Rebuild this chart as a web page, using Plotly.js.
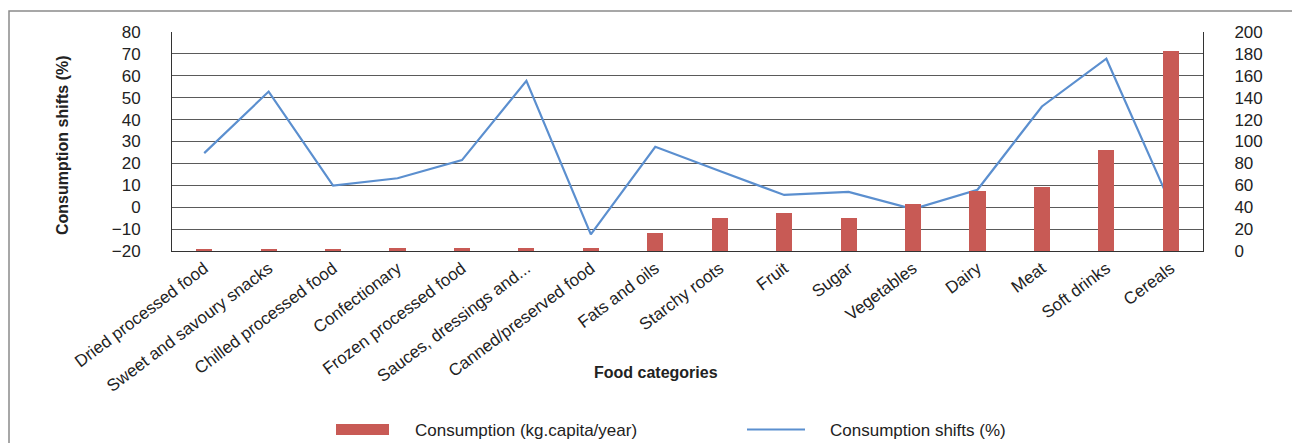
<!DOCTYPE html>
<html>
<head>
<meta charset="utf-8">
<script src="https://cdn.plot.ly/plotly-3.0.1.min.js"></script>
<style>
  html, body { margin: 0; padding: 0; background: #fff; }
  #chart { width: 1292px; height: 443px; }
</style>
</head>
<body>
<div id="chart"></div>
<script>
const categories = [
  "Dried processed food", "Sweet and savoury snacks", "Chilled processed food",
  "Confectionary", "Frozen processed food", "Sauces, dressings and...",
  "Canned/preserved food", "Fats and oils", "Starchy roots", "Fruit", "Sugar",
  "Vegetables", "Dairy", "Meat", "Soft drinks", "Cereals"
];
const consumption = [2, 2, 2, 3, 3, 3, 3, 16.5, 30, 35, 30, 43, 55, 58, 92, 183];
const shifts = [24.7, 52.8, 9.9, 13.2, 21.5, 57.7, -12.4, 27.6, 16.5, 5.6, 7.0, -0.9, 8.0, 46, 67.8, 1.4];
const leftTicks = [-20, -10, 0, 10, 20, 30, 40, 50, 60, 70, 80];
const rightTicks = [0, 20, 40, 60, 80, 100, 120, 140, 160, 180, 200];
const barName = "Consumption (kg.capita/year)";
const lineName = "Consumption shifts (%)";

const FONT = "'Liberation Sans', Arial, sans-serif";
const TXT = "#222222";
const BAR = "#c85a55";
const LINE = "#5b8fcf";

// pixel helpers for plot area 172..1203 x, 32..251 y
const L = 172, R = 1203, T = 32, B = 251;
const px = x => (x - L) / (R - L);
const py = y => (B - y) / (B - T);

const traces = [
  {
    type: "bar", x: categories, y: consumption, yaxis: "y2", name: barName,
    marker: { color: BAR, line: { width: 0 } }, width: 0.25, showlegend: false,
    hoverinfo: "x+y"
  },
  {
    type: "scatter", mode: "lines", x: categories, y: shifts, yaxis: "y", name: lineName,
    line: { color: LINE, width: 2.2 }, showlegend: false
  }
];

const layout = {
  width: 1292, height: 443,
  margin: { l: L, r: 1292 - R, t: T, b: 443 - B, pad: 0 },
  paper_bgcolor: "#fff", plot_bgcolor: "#fff",
  font: { family: FONT, size: 17, color: TXT },
  showlegend: false,
  bargap: 0,
  xaxis: {
    type: "category", tickangle: -37, showline: true, linecolor: "#333", linewidth: 1,
    mirror: false, ticks: "", showgrid: false, tickfont: { family: FONT, size: 17, color: TXT },
    automargin: false
  },
  yaxis: {
    range: [-20, 80], tickvals: leftTicks, showgrid: true, gridcolor: "#5a5a5a", gridwidth: 1,
    zeroline: false, showline: true, linecolor: "#333", linewidth: 1, ticks: "",
    ticklabelstandoff: 27, tickfont: { family: FONT, size: 17, color: TXT }, automargin: false
  },
  yaxis2: {
    range: [0, 200], tickvals: rightTicks, overlaying: "y", side: "right", showgrid: false,
    zeroline: false, showline: true, linecolor: "#333", linewidth: 1, ticks: "",
    ticklabelstandoff: 27, tickfont: { family: FONT, size: 17, color: TXT }, automargin: false
  },
  shapes: [
    { type: "rect", xref: "paper", yref: "paper", x0: px(9), x1: px(1300), y0: py(11), y1: py(460),
      line: { color: "#8a8a8a", width: 1.5 }, fillcolor: "rgba(0,0,0,0)", layer: "below" },
    { type: "rect", xref: "paper", yref: "paper", x0: px(336), x1: px(389), y0: py(424), y1: py(435),
      line: { width: 0 }, fillcolor: BAR },
    { type: "line", xref: "paper", yref: "paper", x0: px(747), x1: px(805), y0: py(429.5), y1: py(429.5),
      line: { color: LINE, width: 2.2 } }
  ],
  annotations: [
    { text: "<b>Food categories</b>", xref: "paper", yref: "paper", x: px(656), y: py(373),
      xanchor: "center", yanchor: "middle", showarrow: false, font: { family: FONT, size: 16, color: TXT } },
    { text: "<b>Consumption shifts (%)</b>", xref: "paper", yref: "paper", x: px(62), y: py(145),
      xanchor: "center", yanchor: "middle", textangle: -90, showarrow: false,
      font: { family: FONT, size: 16, color: TXT } },
    { text: barName, xref: "paper", yref: "paper", x: px(413), y: py(430),
      xanchor: "left", yanchor: "middle", showarrow: false, font: { family: FONT, size: 17, color: TXT } },
    { text: lineName, xref: "paper", yref: "paper", x: px(828), y: py(430),
      xanchor: "left", yanchor: "middle", showarrow: false, font: { family: FONT, size: 17, color: TXT } }
  ]
};

Plotly.newPlot("chart", traces, layout, { displayModeBar: false, staticPlot: true });
</script>
</body>
</html>
